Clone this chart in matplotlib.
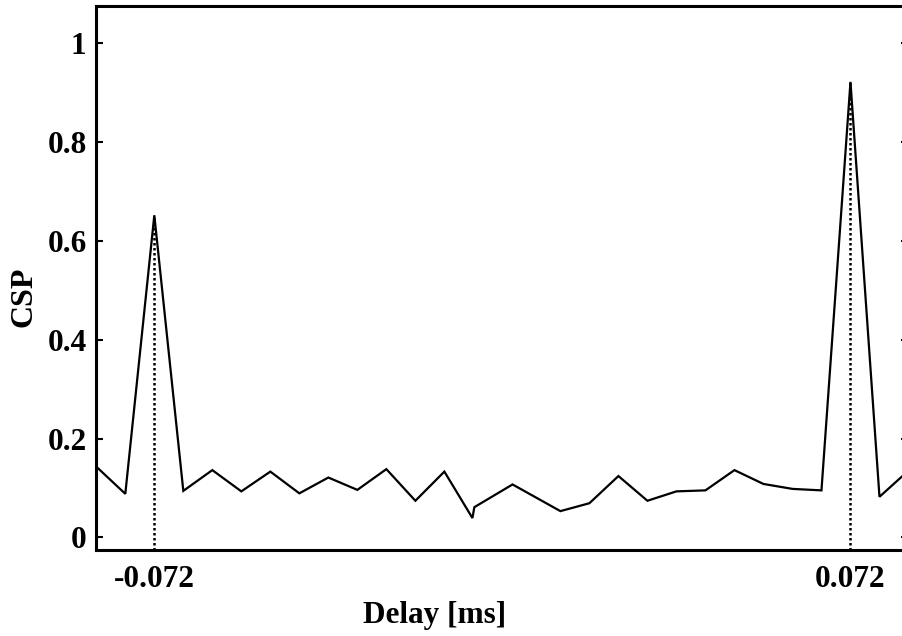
import matplotlib
matplotlib.use("Agg")
import matplotlib.pyplot as plt

plt.rcParams['font.family'] = ['Liberation Serif', 'DejaVu Serif']
plt.rcParams['font.weight'] = 'bold'

# Data (delay in ms, CSP value)
delay = [-0.084, -0.078, -0.072, -0.066, -0.060, -0.054, -0.048, -0.042,
         -0.036, -0.030, -0.024, -0.018, -0.012, -0.0062, -0.0058, 0.0021,
         0.012, 0.018, 0.024, 0.030, 0.036, 0.042, 0.048, 0.054, 0.060,
         0.066, 0.072, 0.078, 0.084]
csp = [0.143, 0.088, 0.652, 0.094, 0.136, 0.093, 0.133, 0.089,
       0.121, 0.096, 0.138, 0.074, 0.133, 0.039, 0.061, 0.107,
       0.053, 0.069, 0.124, 0.074, 0.093, 0.095, 0.136, 0.108, 0.098,
       0.095, 0.922, 0.082, 0.135]
peak_delays = [-0.072, 0.072]
peak_values = [0.652, 0.922]
xtick_vals = [-0.072, 0.072]
xtick_labels = ['-0.072', '0.072']
ytick_vals = [0, 0.2, 0.4, 0.6, 0.8, 1.0]
ytick_labels = ['0', '0.2', '0.4', '0.6', '0.8', '1']

W, H = 902, 636
fig = plt.figure(figsize=(W / 100, H / 100), dpi=100)
left_px, right_px, top_px, bottom_px = 96.3, 908.0, 5.8, 550.0
ax = fig.add_axes([left_px / W, 1 - bottom_px / H,
                   (right_px - left_px) / W, (bottom_px - top_px) / H])

ax.plot(delay, csp, color='black', lw=1.6, solid_joinstyle='miter')
ylo, yhi = -0.0257, 1.076
ax.set_xlim(-0.084, 0.0839)
ax.set_ylim(ylo, yhi)
ax.vlines(peak_delays, ylo, peak_values, colors='black', lw=1.8,
          linestyles=[(0, (1, 1))])

for s in ax.spines.values():
    s.set_linewidth(2.2)

ax.set_xticks(xtick_vals)
ax.set_xticklabels(xtick_labels)
ax.set_yticks(ytick_vals)
ax.set_yticklabels(ytick_labels)
ax.tick_params(axis='y', direction='in', length=5, width=1.5, right=True,
               labelsize=22.5, pad=7)
ax.tick_params(axis='x', direction='in', length=0, labelsize=22.5, pad=11)
for lab in ax.get_xticklabels() + ax.get_yticklabels():
    lab.set_fontweight('bold')

fig.text(434.2 / W, 1 - 616 / H, 'Delay [ms]', ha='center', va='center',
         fontsize=22.5, fontweight='bold')
fig.text(24 / W, 1 - 297 / H, 'CSP', ha='center', va='center',
         rotation=90, fontsize=23, fontweight='bold')

fig.savefig('out.png', dpi=100)
